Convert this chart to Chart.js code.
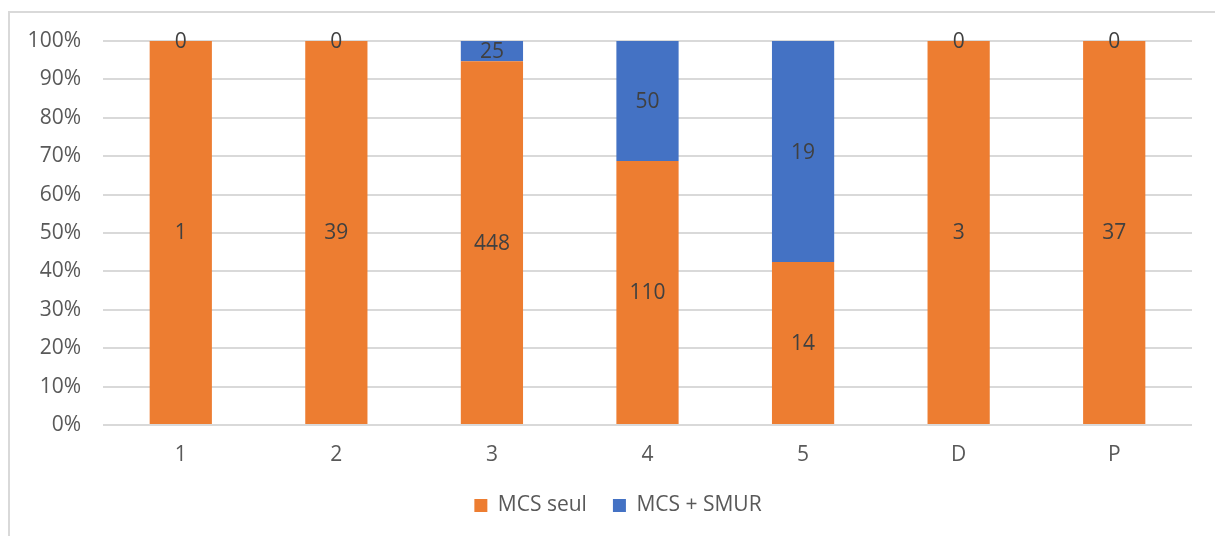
<!DOCTYPE html>
<html>
<head>
<meta charset="utf-8">
<script src="https://cdn.jsdelivr.net/npm/chart.js@4.4.1/dist/chart.umd.min.js"></script>
<style>
  html, body { margin: 0; padding: 0; background: #ffffff; }
  #wrap { position: relative; width: 1215px; height: 536px; overflow: hidden; }
  #frame { position: absolute; left: 8px; top: 11px; width: 1300px; height: 600px;
           border-left: 2px solid #d9d9d9; border-top: 2px solid #d9d9d9; box-sizing: border-box; }
  canvas { position: absolute; left: 0; top: 0; }
</style>
</head>
<body>
<div id="wrap">
  <div id="frame"></div>
  <canvas id="c" width="1215" height="536"></canvas>
</div>
<script>
const categories = ['1', '2', '3', '4', '5', 'D', 'P'];
const seriesNames = ['MCS seul', 'MCS + SMUR'];
const mcsSeul = [1, 39, 448, 110, 14, 3, 37];
const mcsSmur = [0, 0, 25, 50, 19, 0, 0];
const yTicks = [0, 10, 20, 30, 40, 50, 60, 70, 80, 90, 100];

const totals = categories.map((_, i) => mcsSeul[i] + mcsSmur[i]);
const pct = arr => arr.map((v, i) => totals[i] ? v / totals[i] * 100 : 0);

const FONT = "'Open Sans', 'Noto Sans', sans-serif";

const valueLabels = {
  id: 'valueLabels',
  afterDatasetsDraw(chart) {
    const ctx = chart.ctx;
    ctx.save();
    ctx.font = "21px " + FONT;
    ctx.fillStyle = '#404040';
    ctx.textAlign = 'center';
    ctx.textBaseline = 'middle';
    chart.data.datasets.forEach((ds, di) => {
      const meta = chart.getDatasetMeta(di);
      meta.data.forEach((el, i) => {
        const p = el.getProps(['x', 'y', 'base'], true);
        ctx.fillText(String(ds.counts[i]), p.x, (p.y + p.base) / 2 + 1);
      });
    });
    ctx.restore();
  }
};

const legendShift = {
  id: 'legendShift',
  afterLayout(chart) {
    if (chart.legend) {
      chart.legend.left += 22;
      chart.legend.right += 22;
    }
  }
};

new Chart(document.getElementById('c'), {
  type: 'bar',
  data: {
    labels: categories,
    datasets: [
      { label: seriesNames[0], data: pct(mcsSeul), counts: mcsSeul,
        backgroundColor: '#ED7D31', barPercentage: 0.4, categoryPercentage: 1 },
      { label: seriesNames[1], data: pct(mcsSmur), counts: mcsSmur,
        backgroundColor: '#4472C4', barPercentage: 0.4, categoryPercentage: 1 }
    ]
  },
  options: {
    responsive: false,
    animation: false,
    devicePixelRatio: 1,
    layout: { padding: { left: 0, right: 23, top: 41, bottom: 10 } },
    plugins: {
      legend: {
        position: 'bottom',
        labels: {
          boxWidth: 13, boxHeight: 13, padding: 26,
          color: '#595959', font: { family: FONT, size: 21 }
        }
      },
      tooltip: { enabled: false }
    },
    scales: {
      x: {
        stacked: true,
        grid: { display: false, drawTicks: false },
        border: { display: false },
        ticks: { color: '#595959', font: { family: FONT, size: 21 }, padding: 17 },
        afterFit(s) { s.height = 44; }
      },
      y: {
        stacked: true,
        min: 0, max: 100,
        afterBuildTicks(s) { s.ticks = yTicks.map(v => ({ value: v })); },
        grid: { color: '#d9d9d9', lineWidth: 2, drawTicks: false },
        border: { display: false },
        ticks: { color: '#595959', font: { family: FONT, size: 21 }, padding: 22,
                 callback: v => v + '%' },
        afterFit(s) { s.width = 103; }
      }
    }
  },
  plugins: [valueLabels, legendShift]
});
</script>
</body>
</html>
